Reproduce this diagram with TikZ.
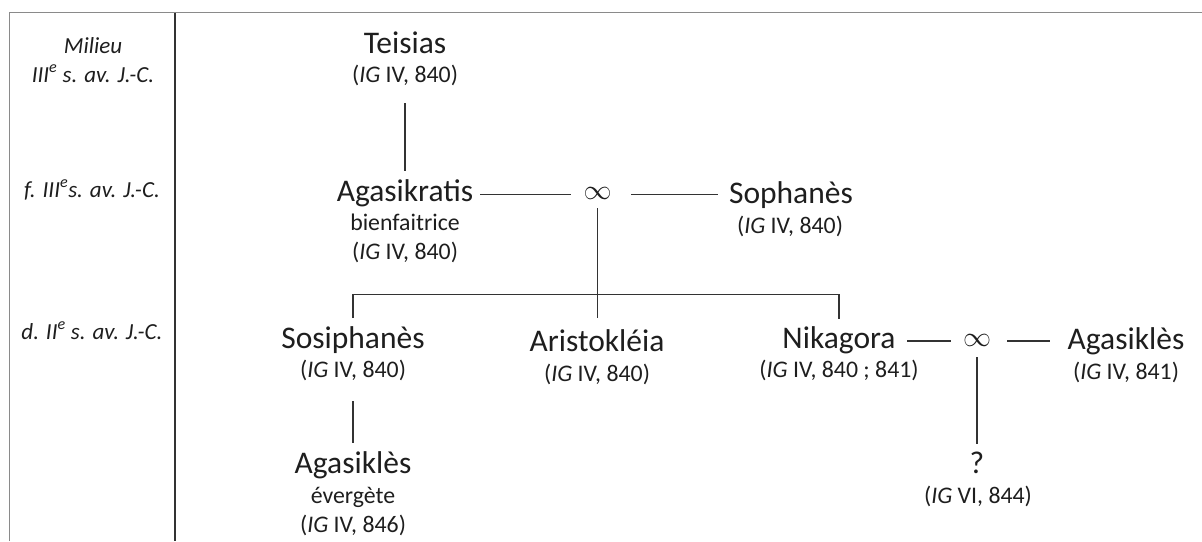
\documentclass[tikz,border=0pt]{standalone}
\usepackage{fontspec}
\setmainfont{Carlito}
\definecolor{ink}{HTML}{1E1E1E}
\definecolor{linec}{HTML}{333333}
\definecolor{framec}{HTML}{8A8A8A}
\newcommand{\marsym}{\resizebox{28pt}{!}{$\infty$}}
\begin{document}
\begin{tikzpicture}[x=1pt,y=-1pt,
  every node/.style={inner sep=0pt,text=ink},
  pname/.style={font=\fontsize{31.5}{31.5}\selectfont,anchor=base,text height=22pt,text depth=6pt},
  pref/.style={font=\fontsize{23.8}{29}\selectfont,anchor=base,text height=17pt,text depth=6pt},
  era/.style={font=\fontsize{23}{29}\selectfont\itshape,anchor=base},
  marr/.style={anchor=center},
  conn/.style={draw=linec,line width=1.6pt},
  frame/.style={draw=framec,line width=1pt}]
\useasboundingbox (0,0) rectangle (1202,541);
% frame
\coordinate (fTL) at (9,12.5);
\coordinate (fBL) at (9,541);
\coordinate (fTR) at (1202,12.5);
\coordinate (dT) at (175,12.5);
\coordinate (dB) at (175,541);
\draw[frame] (fBL) -- (fTL) -- (fTR);
\draw[draw=linec,line width=1.6pt] (dT) -- (dB);
% eras
\node[era] (e1a) at (93,53) {Milieu};
\node[era] (e1b) at (93,82) {III\textsuperscript{e} s. av. J.-C.};
\node[era] (e2) at (92,197) {f. III\textsuperscript{e}s. av. J.-C.};
\node[era] (e3) at (92,339) {d. II\textsuperscript{e} s. av. J.-C.};
% generation 1
\node[pname] (teisias) at (405,53) {Teisias};
\node[pref] (teisiasR) at (405,82) {(\textit{IG} IV, 840)};
% generation 2
\node[pname] (agasikratis) at (405,201) {Agasikratis};
\node[pref] (agasikratisT) at (405,230) {bienfaitrice};
\node[pref] (agasikratisR) at (405,259) {(\textit{IG} IV, 840)};
\node[marr] (m1) at (597.5,193.5) {\marsym};
\node[pname] (sophanes) at (791,203) {Sophanès};
\node[pref] (sophanesR) at (790,233) {(\textit{IG} IV, 840)};
% generation 3
\node[pname] (sosiphanes) at (353,348) {Sosiphanès};
\node[pref] (sosiphanesR) at (353,377) {(\textit{IG} IV, 840)};
\node[pname] (aristokleia) at (597,351) {Aristokléia};
\node[pref] (aristokleiaR) at (597,381) {(\textit{IG} IV, 840)};
\node[pname] (nikagora) at (839,348) {Nikagora};
\node[pref] (nikagoraR) at (839,377) {(\textit{IG} IV, 840 ; 841)};
\node[marr] (m2) at (977,340.5) {\marsym};
\node[pname] (agasikles2) at (1126,349) {Agasiklès};
\node[pref] (agasikles2R) at (1126,379) {(\textit{IG} IV, 841)};
% generation 4
\node[pname] (agasikles1) at (353,473) {Agasiklès};
\node[pref] (agasikles1T) at (353,503) {évergète};
\node[pref] (agasikles1R) at (353,532) {(\textit{IG} IV, 846)};
\node[pname] (unknown) at (977,473) {?};
\node[pref] (unknownR) at (978,503) {(\textit{IG} VI, 844)};
% connectors
\coordinate (bar) at (598,294.5);
\draw[conn] (teisias.center |- 0,103) -- (teisias.center |- 0,171);
\draw[conn] (480,194.5) -- (571,194.5);
\draw[conn] (631,194.5) -- (718,194.5);
\draw[conn] (m1.center |- 0,208) -- (m1.center |- 0,318);
\draw[conn] (sosiphanes.center |- 0,318) -- (sosiphanes.center |- bar) -- (nikagora.center |- bar) -- (nikagora.center |- 0,319);
\draw[conn] (sosiphanes.center |- 0,401) -- (sosiphanes.center |- 0,443);
\draw[conn] (907,341) -- (951,341);
\draw[conn] (1007,341) -- (1050,341);
\draw[conn] (m2.center |- 0,357) -- (m2.center |- 0,444);
\end{tikzpicture}
\end{document}
